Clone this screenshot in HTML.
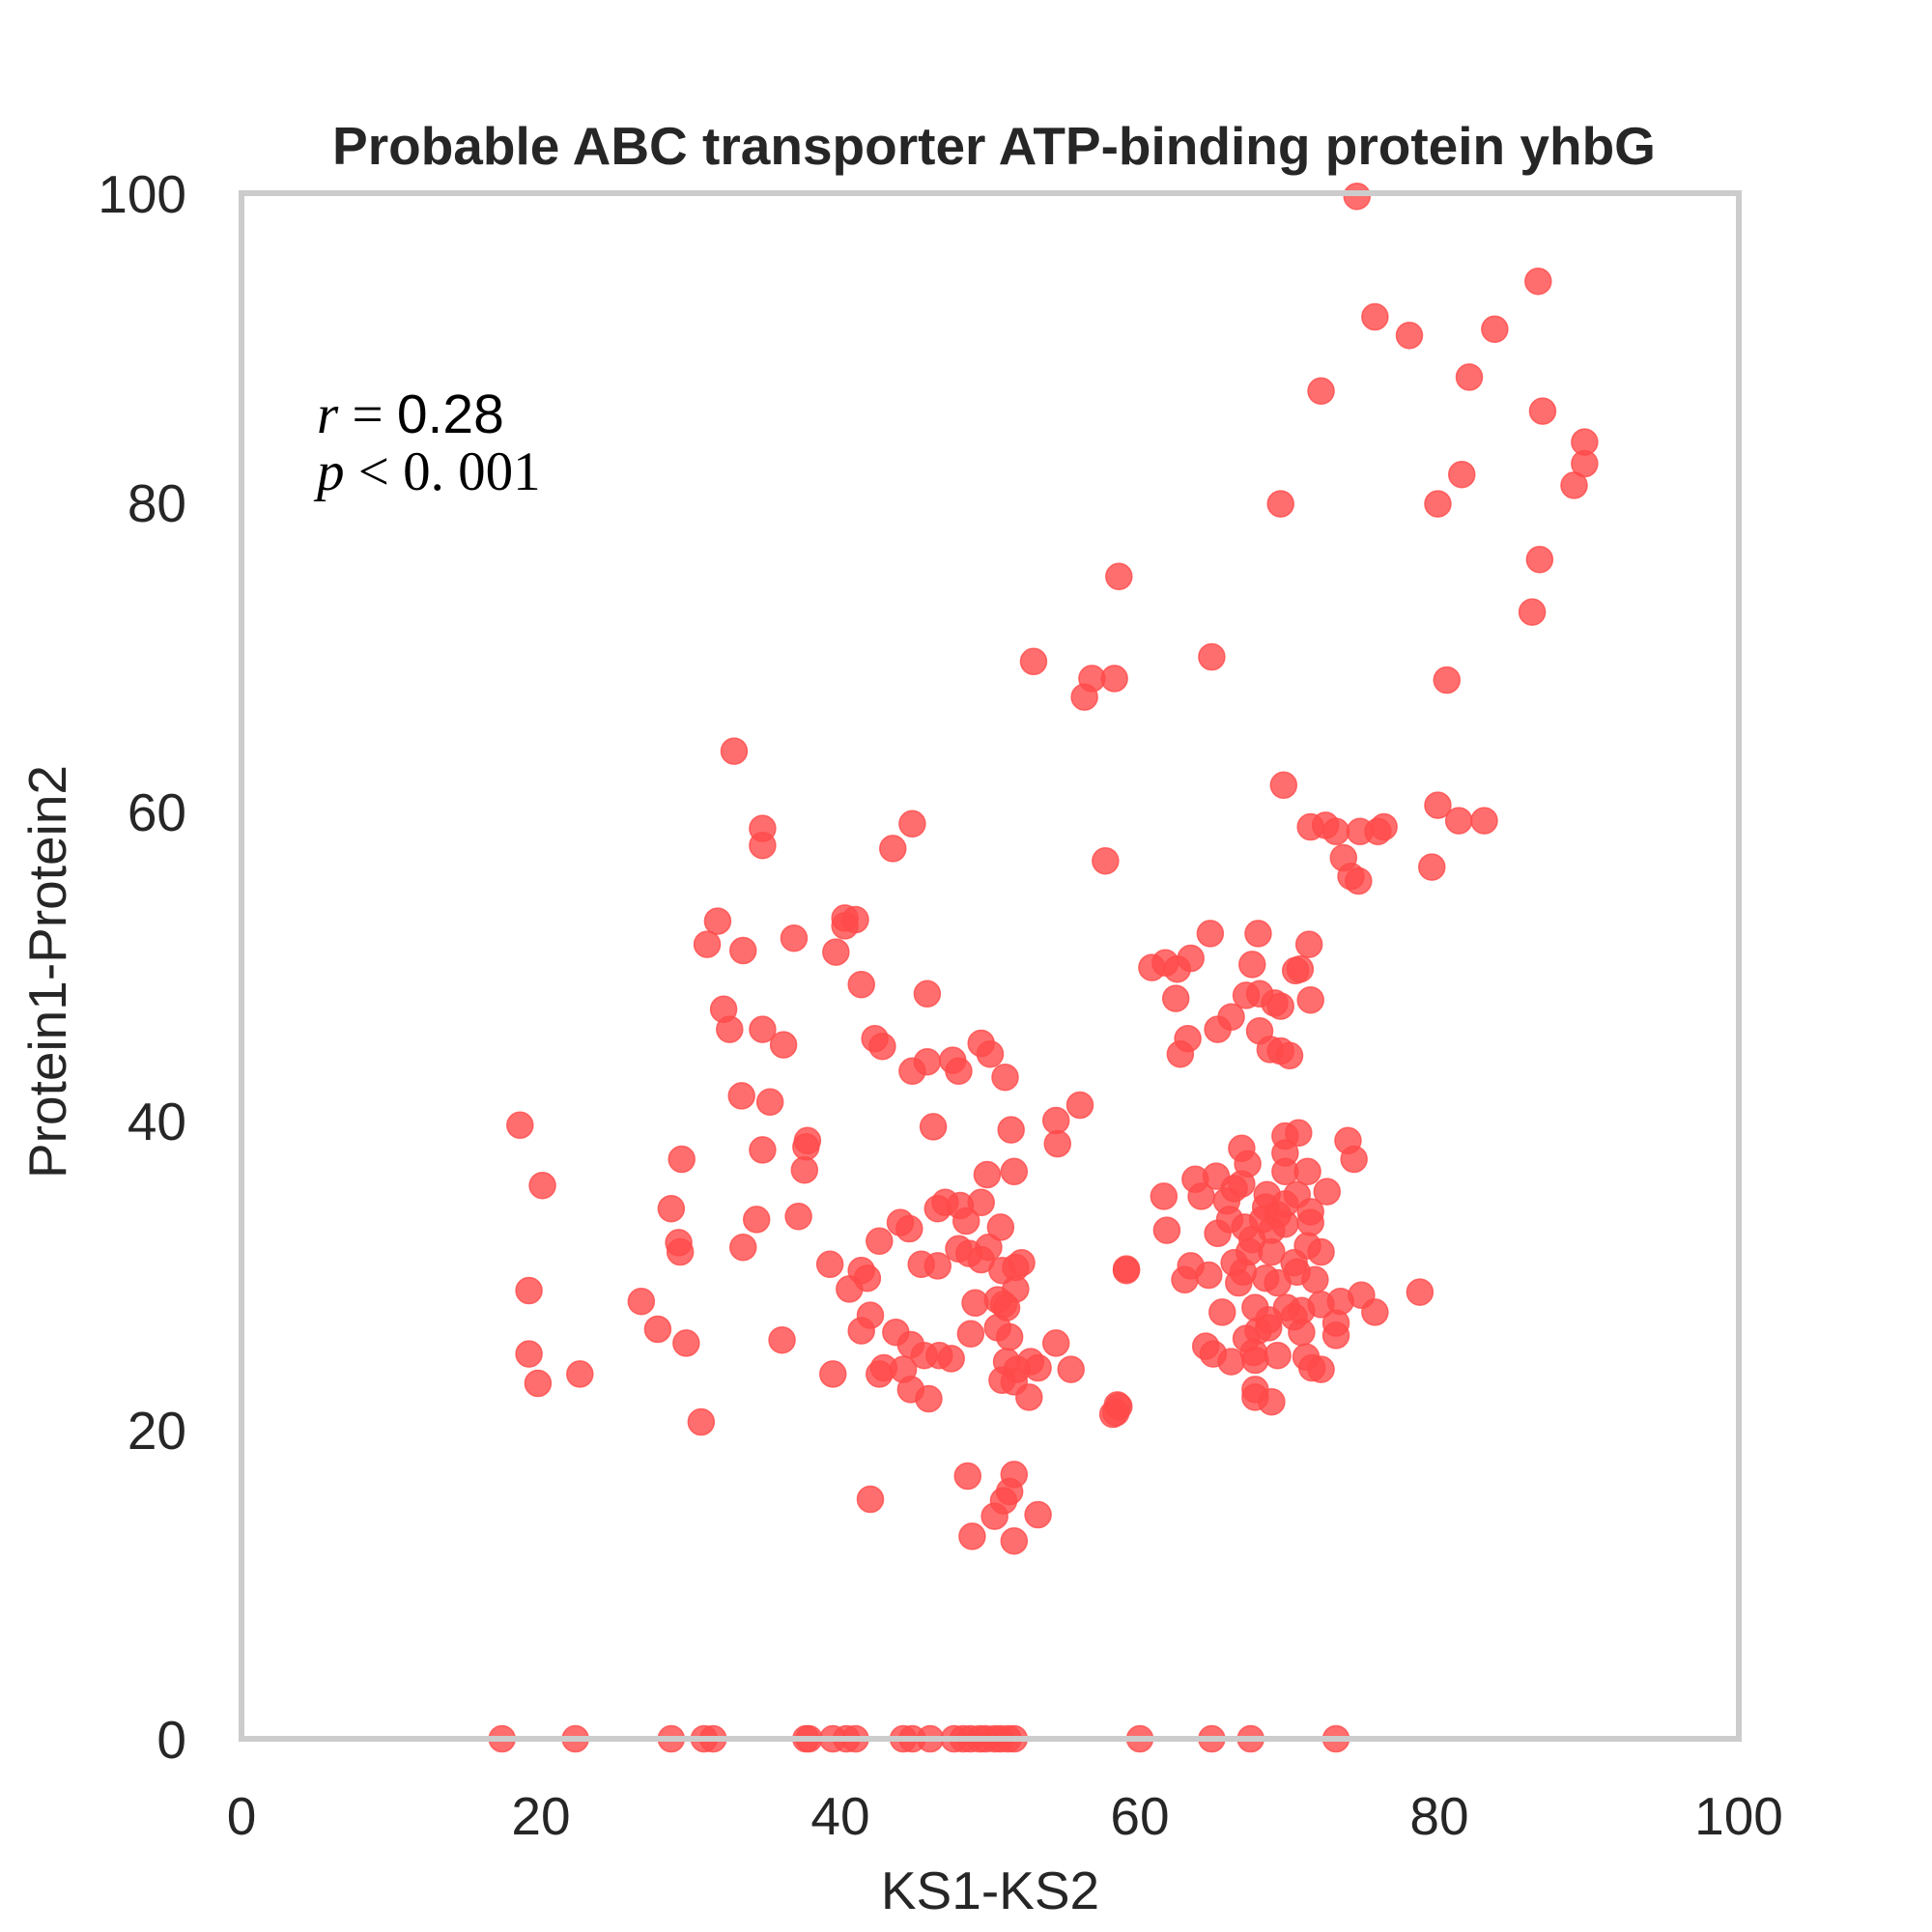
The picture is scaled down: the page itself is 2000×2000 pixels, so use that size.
<!DOCTYPE html>
<html><head><meta charset="utf-8"><style>
html,body{margin:0;padding:0;background:#fff;}
svg{display:block;}
text{font-family:"Liberation Sans",sans-serif;fill:#262626;}
</style></head><body>
<svg id="chart" width="2000" height="2000" viewBox="0 0 2000 2000" xmlns="http://www.w3.org/2000/svg">
<rect x="0" y="0" width="2000" height="2000" fill="#fff"/>
<text x="1029" y="170" font-size="55" font-weight="bold" text-anchor="middle">Probable ABC transporter ATP-binding protein yhbG</text>
<g id="points"></g>
<rect x="250" y="200" width="1550" height="1600" fill="none" stroke="#cccccc" stroke-width="6"/>
<g id="xticks"></g>
<g id="yticks"></g>
<text x="1025" y="1976" font-size="55" text-anchor="middle">KS1-KS2</text>
<text transform="translate(68,1006) rotate(-90)" font-size="55" text-anchor="middle">Protein1-Protein2</text>
<text x="328" y="448" font-size="57" style="fill:#000"><tspan font-family="Liberation Serif,serif" font-style="italic">r</tspan><tspan font-family="Liberation Serif,serif"> = </tspan>0.28</text>
<text x="328" y="507" font-size="57" style="fill:#000;font-family:'Liberation Serif',serif"><tspan font-style="italic">p</tspan> &lt; 0. 001</text>
</svg>
<script>
const xTicks=[0,20,40,60,80,100];
const yTicks=[0,20,40,60,80,100];
const xVals=[74.5,86.6,75.7,78.0,83.7,72.1,82.0,86.9,89.7,89.7,89.0,81.5,79.9,69.4,86.7,86.2,58.6,52.9,64.8,56.8,58.3,56.3,80.5,32.9,69.6,79.9,81.3,83.0,71.4,72.4,73.1,74.7,75.9,76.3,73.6,74.1,74.6,79.5,57.7,34.8,34.8,44.8,43.5,31.8,31.1,33.5,36.9,40.3,40.3,41.0,39.7,41.4,45.8,32.2,32.6,34.8,36.2,42.3,42.8,33.4,35.3,44.8,45.8,47.5,47.9,49.4,50.0,51.0,56.0,54.4,54.5,51.4,46.2,37.8,37.7,34.8,37.6,37.2,29.4,18.6,20.1,28.7,29.2,29.3,34.4,33.5,19.2,19.2,19.8,22.6,26.7,27.8,29.7,30.7,36.1,39.3,39.5,40.6,41.4,41.8,42.0,41.4,42.6,44.0,44.6,43.7,42.9,42.6,44.2,44.7,44.7,45.9,45.6,46.6,47.4,45.4,46.5,46.5,47.0,48.0,48.4,47.9,48.6,49.4,49.9,50.7,49.4,49.8,51.6,50.8,51.7,52.1,51.7,49.0,50.5,50.9,51.1,50.5,51.3,48.7,51.1,51.8,52.7,53.2,50.8,51.6,52.6,54.4,55.4,48.5,51.6,51.3,50.9,50.3,53.2,48.8,51.6,42.0,58.2,58.6,59.1,
60.8,61.7,62.5,63.4,64.7,67.9,71.3,67.5,70.4,70.7,62.4,67.1,68.0,69.0,69.4,71.4,66.1,65.2,68.0,63.2,62.7,68.7,69.4,70.0,
69.7,70.6,73.9,74.3,66.8,67.2,69.7,69.7,71.2,63.7,65.1,64.1,61.6,61.8,59.1,65.8,66.8,66.3,68.5,68.4,69.2,70.5,72.5,71.4,71.4,69.7,67.0,65.2,66.0,67.5,68.8,71.2,72.1,68.8,66.3,66.9,63.4,63.0,64.6,66.6,68.4,69.2,70.5,71.7,70.3,78.7,74.8,75.7,73.4,72.1,70.8,69.8,67.7,65.5,68.6,70.3,73.1,73.1,70.8,68.6,67.9,67.1,64.4,64.9,66.1,67.6,67.7,69.2,71.1,71.5,72.1,67.7,67.7,68.8,58.5,58.4,69.7,68.2,67.3,
17.4,22.3,28.7,30.9,31.5,37.7,37.9,39.5,40.4,41.0,44.2,44.8,46.0,47.6,48.2,48.7,49.3,49.7,50.3,50.7,51.2,51.6,60.0,64.8,67.4,73.1];
const yVals=[99.8,94.3,92.0,90.8,91.2,87.2,88.1,85.9,83.9,82.5,81.1,81.8,79.9,79.9,76.3,72.9,75.2,69.7,70.0,68.6,68.6,67.4,68.5,63.9,61.7,60.4,59.4,59.4,59.0,59.1,58.7,58.7,58.7,59.0,57.0,55.8,55.5,56.4,56.8,58.9,57.8,59.2,57.6,52.9,51.4,51.0,51.8,53.1,52.6,53.0,50.9,48.8,48.2,47.2,45.9,45.9,44.9,45.3,44.8,41.6,41.2,43.2,43.8,43.9,43.2,45.0,44.3,42.8,41.0,40.0,38.5,39.4,39.6,38.7,38.3,38.1,36.8,33.8,37.5,39.7,35.8,34.3,32.1,31.5,33.6,31.8,29.0,24.9,23.0,23.6,28.3,26.5,25.6,20.5,25.8,30.7,23.6,29.1,30.3,29.8,27.4,26.4,32.2,33.4,33.0,26.3,24.0,23.6,23.9,25.5,22.6,22.0,24.8,24.8,24.6,30.7,30.6,34.3,34.7,34.5,33.5,31.7,31.4,31.0,31.8,33.1,34.7,36.5,36.7,30.3,30.5,30.8,29.1,28.2,28.4,28.1,27.9,26.6,26.0,26.2,24.4,23.9,24.4,24.0,23.2,23.1,22.1,25.6,23.9,17.0,17.1,16.0,15.4,14.4,14.5,13.1,12.8,15.5,21.0,21.5,30.3,
49.9,50.2,49.8,50.5,52.1,52.1,51.4,50.1,49.7,49.8,47.9,48.1,48.2,47.6,47.4,47.8,46.7,45.9,45.8,45.3,44.3,44.6,44.5,44.2,
39.0,39.2,38.7,37.5,38.2,37.2,37.9,36.7,36.7,36.2,36.4,35.1,35.1,32.9,30.4,34.8,35.9,35.6,35.2,34.4,33.9,35.2,35.4,34.1,33.4,33.3,33.1,32.7,33.6,32.3,32.9,31.9,31.5,31.5,30.8,30.2,30.6,29.7,30.0,29.5,29.8,29.5,30.2,29.7,30.8,28.9,28.7,27.6,28.3,28.1,27.7,27.9,27.9,27.6,27.1,27.3,26.9,26.1,26.3,26.6,26.4,25.9,25.4,24.9,24.4,25.0,24.5,24.8,24.7,24.0,23.9,22.6,22.1,21.8,21.6,21.1,34.6,33.6,31.5,
0,0,0,0,0,0,0,0,0,0,0,0,0,0,0,0,0,0,0,0,0,0,0,0,0,0];
const NS='http://www.w3.org/2000/svg';
const X0=250,X1=1800,Y0=1800,Y1=200;
function sx(v){return X0+(v-0)/(100-0)*(X1-X0);}
function sy(v){return Y0-(v-0)/(100-0)*(Y0-Y1);}
const pg=document.getElementById('points');
for(let i=0;i<xVals.length;i++){
  const c=document.createElementNS(NS,'circle');
  c.setAttribute('cx',sx(xVals[i]));c.setAttribute('cy',sy(yVals[i]));
  c.setAttribute('r',13.5);c.setAttribute('fill','#ff4a4a');c.setAttribute('fill-opacity','0.8');
  c.setAttribute('stroke','#ff4a4a');c.setAttribute('stroke-opacity','0.8');c.setAttribute('stroke-width','1.5');
  
  
  pg.appendChild(c);
}
const xg=document.getElementById('xticks');
xTicks.forEach(t=>{
  const e=document.createElementNS(NS,'text');
  e.setAttribute('x',sx(t));e.setAttribute('y',1899);e.setAttribute('font-size','55');e.setAttribute('text-anchor','middle');
  e.textContent=t;
  
  
  xg.appendChild(e);
});
const yg=document.getElementById('yticks');
yTicks.forEach(t=>{
  const e=document.createElementNS(NS,'text');
  e.setAttribute('x',193);e.setAttribute('y',sy(t)+20);e.setAttribute('font-size','55');e.setAttribute('text-anchor','end');
  e.textContent=t;
  
  
  yg.appendChild(e);
});
</script>
</body></html>
